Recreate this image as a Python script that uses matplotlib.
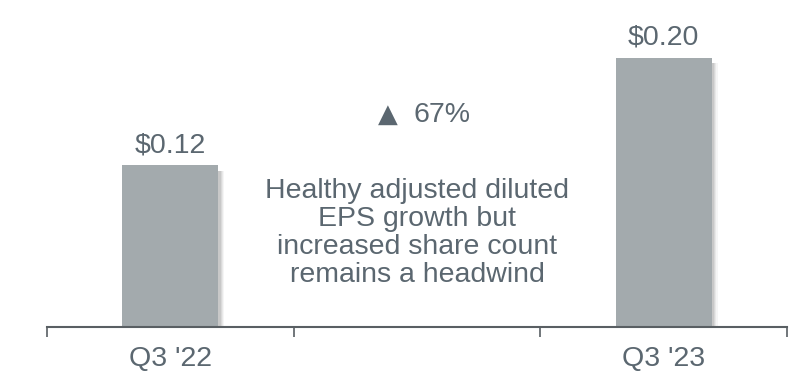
import matplotlib
matplotlib.use("Agg")
import matplotlib.pyplot as plt

categories = ["Q3 '22", "", "Q3 '23"]
positions = [0, 2]
values = [0.12, 0.20]
value_labels = ["$0.12", "$0.20"]
change_arrow = "\u25B2"
change_label = "67%"
note = "Healthy adjusted diluted\nEPS growth but\nincreased share count\nremains a headwind"

TEXT = "#5b6770"
BAR = "#a3aaad"
AXIS = "#595f63"
FS = 20.5

plt.rcParams['font.family'] = ['Liberation Sans', 'DejaVu Sans']

fig = plt.figure(figsize=(8.05, 3.73), dpi=100)
ax = fig.add_axes([47/805, (373-327)/373, 740/805, 327/373])

W = 0.39
# soft shadow
for off, a in [(0.024, 0.06), (0.019, 0.08), (0.014, 0.10), (0.009, 0.12)]:
    ax.bar([p + off for p in positions], [v - 0.004 for v in values], width=W,
           bottom=0, color="#555555", alpha=a, linewidth=0, zorder=1)
ax.bar(positions, values, width=W, color=BAR, linewidth=0, zorder=2)

for p, v, lab in zip(positions, values, value_labels):
    ax.text(p, v + 0.005, lab, ha='center', va='bottom', fontsize=FS, color=TEXT)

ax.text(0.9216, 0.1522, change_arrow, ha='right', va='baseline', fontsize=18.5, color=TEXT,
        family=['DejaVu Sans'])
ax.text(0.986, 0.1522, change_label, ha='left', va='baseline', fontsize=FS, color=TEXT)
ax.text(1, 0.0698, note, ha='center', va='center', fontsize=FS, color=TEXT, linespacing=1.1)

ax.set_xlim(-0.5, 2.5)
ax.set_ylim(0, 327/1347)

for s in ['top', 'right', 'left']:
    ax.spines[s].set_visible(False)
ax.spines['bottom'].set_color(AXIS)
ax.spines['bottom'].set_linewidth(1.5)
ax.set_yticks([])
ax.set_xticks([-0.5, 0.5, 1.5, 2.5])
ax.set_xticklabels([])
ax.tick_params(axis='x', which='major', length=7.5, width=1.2, color=AXIS)
ax.set_xticks([0, 1, 2], minor=True)
ax.set_xticklabels(categories, minor=True, fontsize=FS, color=TEXT)
ax.tick_params(axis='x', which='minor', length=0, pad=14)

fig.savefig("out.png", dpi=100)
